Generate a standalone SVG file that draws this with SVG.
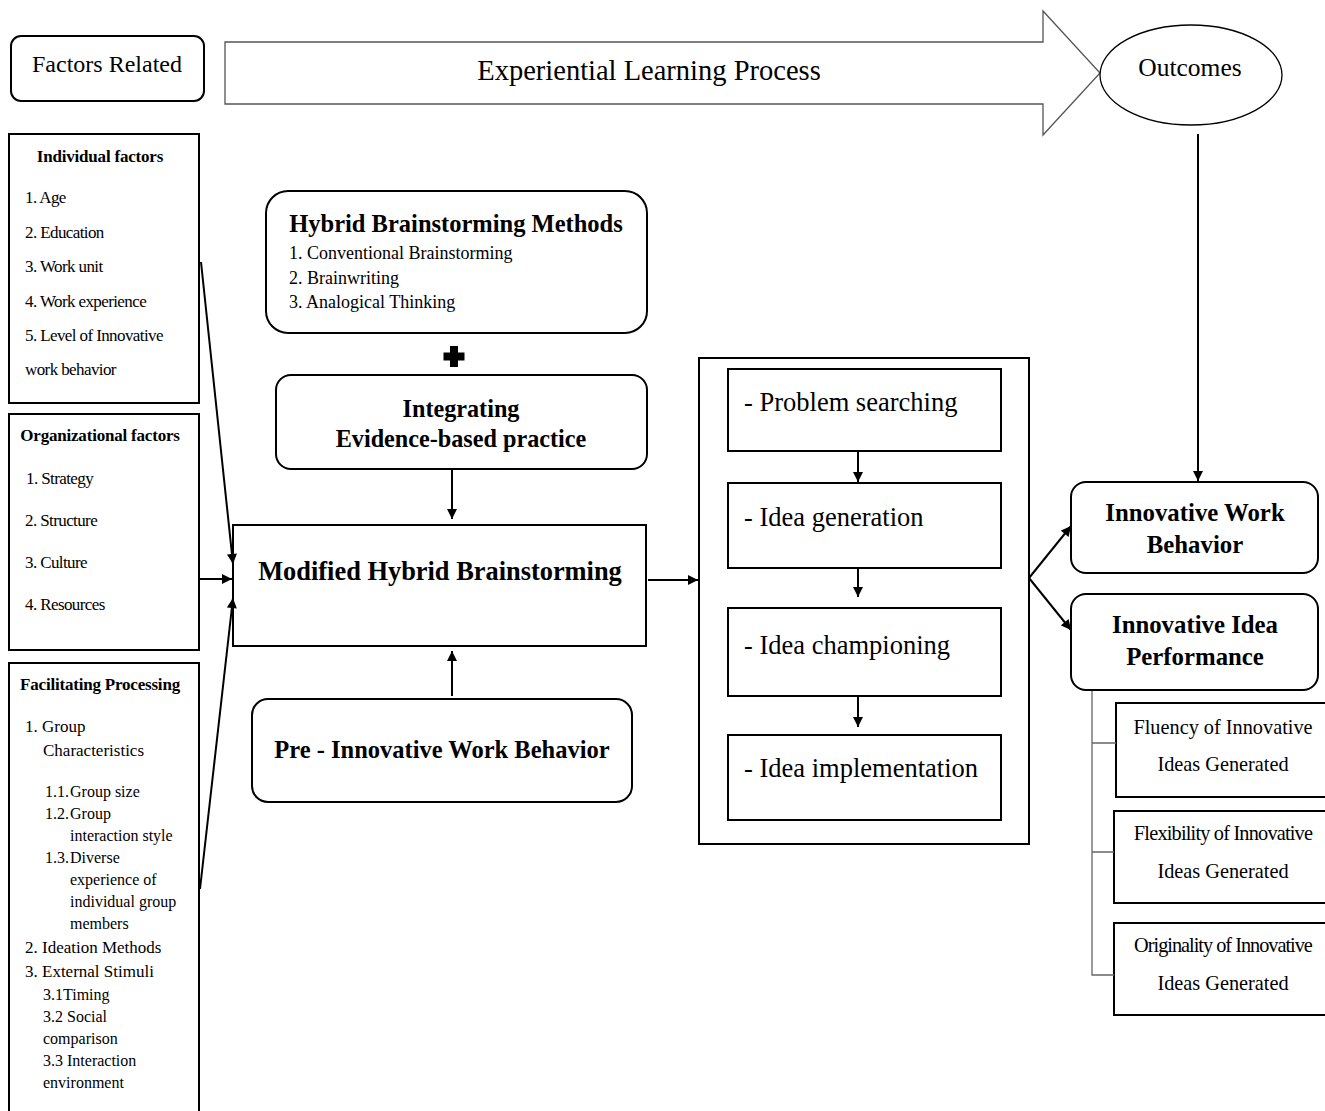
<svg xmlns="http://www.w3.org/2000/svg" width="1325" height="1111" viewBox="0 0 1325 1111">
<defs>
<marker id="ah" viewBox="0 0 10 10" refX="10" refY="5" markerWidth="11" markerHeight="10" markerUnits="userSpaceOnUse" orient="auto">
<path d="M0,0 L10,5 L0,10 z" fill="#000"/>
</marker>
<style>
text{font-family:"Liberation Serif","Times New Roman",serif;fill:#000}
.box{fill:#fff;stroke:#000;stroke-width:2}
.con{fill:none;stroke:#000;stroke-width:2;marker-end:url(#ah)}
.tree{fill:none;stroke:#666;stroke-width:1.3}
.b{font-weight:bold}
.cond{font-size:17px;letter-spacing:-0.6px}
.ttl{font-size:17px;font-weight:bold;letter-spacing:-0.2px}
.f17{font-size:17px}
.f155{font-size:16px}
.proc{font-size:26.5px}
.sub{font-size:20.3px}
.m{text-anchor:middle}
</style>
</defs>

<g id="factors-related">
<rect class="box" x="11" y="36" width="193" height="65" rx="10" stroke-width="1.5"/>
<text class="m" x="107" y="72" font-size="24">Factors Related</text>
</g>

<g id="experiential-arrow">
<path d="M225,42 L1043,42 L1043,11 L1100,73 L1043,135 L1043,104 L225,104 Z" fill="#fff" stroke="#555" stroke-width="1.3"/>
<text class="m" x="649" y="80" font-size="28.5">Experiential Learning Process</text>
</g>

<g id="outcomes">
<ellipse cx="1191" cy="75" rx="91" ry="50" fill="#fff" stroke="#000" stroke-width="1.3"/>
<text class="m" x="1190" y="76" font-size="25.5">Outcomes</text>
</g>

<g id="individual-factors">
<rect class="box" x="9" y="134" width="190" height="269" stroke-width="1.5"/>
<text class="ttl m" x="100" y="162">Individual factors</text>
<text class="cond" x="25" y="203">1. Age</text>
<text class="cond" x="25" y="238">2. Education</text>
<text class="cond" x="25" y="272">3. Work unit</text>
<text class="cond" x="25" y="307">4. Work experience</text>
<text class="cond" x="25" y="341">5. Level of  Innovative</text>
<text class="cond" x="25" y="375">work behavior</text>
</g>

<g id="organizational-factors">
<rect class="box" x="9" y="414" width="190" height="236" stroke-width="1.5"/>
<text class="ttl m" x="100" y="441">Organizational factors</text>
<text class="cond" x="26" y="484">1. Strategy</text>
<text class="cond" x="25" y="526">2. Structure</text>
<text class="cond" x="25" y="568">3. Culture</text>
<text class="cond" x="25" y="610">4. Resources</text>
</g>

<g id="facilitating-processing">
<rect class="box" x="9" y="663" width="190" height="460" stroke-width="1.5"/>
<text class="ttl m" x="100" y="690">Facilitating Processing</text>
<text class="f17" x="25" y="732">1. Group</text>
<text class="f17" x="43" y="756">Characteristics</text>
<text class="f155" x="45" y="797">1.1.</text><text class="f155" x="70" y="797">Group size</text>
<text class="f155" x="45" y="819">1.2.</text><text class="f155" x="70" y="819">Group</text>
<text class="f155" x="70" y="841">interaction style</text>
<text class="f155" x="45" y="863">1.3.</text><text class="f155" x="70" y="863">Diverse</text>
<text class="f155" x="70" y="885">experience of</text>
<text class="f155" x="70" y="907">individual group</text>
<text class="f155" x="70" y="929">members</text>
<text class="f17" x="25" y="953">2. Ideation Methods</text>
<text class="f17" x="25" y="977">3. External Stimuli</text>
<text class="f155" x="43" y="1000">3.1Timing</text>
<text class="f155" x="43" y="1022">3.2 Social</text>
<text class="f155" x="43" y="1044">comparison</text>
<text class="f155" x="43" y="1066">3.3 Interaction</text>
<text class="f155" x="43" y="1088">environment</text>
</g>

<g id="hybrid-methods">
<rect class="box" x="266" y="191" width="381" height="142" rx="22"/>
<text class="b m" x="456" y="232" font-size="24.5">Hybrid Brainstorming Methods</text>
<text x="289" y="259" font-size="18">1. Conventional Brainstorming</text>
<text x="289" y="284" font-size="18">2. Brainwriting</text>
<text x="289" y="308" font-size="18">3. Analogical Thinking</text>
</g>

<g id="plus">
<path d="M450,346 h8 v6.5 h6.5 v8 h-6.5 v6.5 h-8 v-6.5 h-6.5 v-8 h6.5 z" fill="#000"/>
</g>

<g id="integrating-ebp">
<rect class="box" x="276" y="375" width="371" height="94" rx="15"/>
<text class="b m" x="461" y="417" font-size="24.2">Integrating</text>
<text class="b m" x="461" y="447" font-size="24.2">Evidence-based practice</text>
</g>

<g id="modified-hybrid">
<rect class="box" x="233" y="525" width="413" height="121"/>
<text class="b m" x="440" y="580" font-size="26.4">Modified Hybrid Brainstorming</text>
</g>

<g id="pre-iwb">
<rect class="box" x="252" y="699" width="380" height="103" rx="16"/>
<text class="b m" x="442" y="758" font-size="24.5">Pre - Innovative Work Behavior</text>
</g>

<g id="process">
<rect class="box" x="699" y="358" width="330" height="486"/>
<rect class="box" x="728" y="369" width="273" height="82"/>
<text class="proc" x="744" y="411">- Problem searching</text>
<rect class="box" x="728" y="483" width="273" height="85"/>
<text class="proc" x="744" y="526">- Idea generation</text>
<rect class="box" x="728" y="608" width="273" height="88"/>
<text class="proc" x="744" y="654">- Idea championing</text>
<rect class="box" x="728" y="735" width="273" height="85"/>
<text class="proc" x="744" y="777">- Idea implementation</text>
</g>

<g id="innovative-work-behavior">
<rect class="box" x="1071" y="482" width="247" height="91" rx="15"/>
<text class="b m" x="1195" y="521" font-size="24.8">Innovative Work</text>
<text class="b m" x="1195" y="553" font-size="24.8">Behavior</text>
</g>

<g id="innovative-idea-performance">
<rect class="box" x="1071" y="594" width="247" height="96" rx="15"/>
<text class="b m" x="1195" y="633" font-size="24.8">Innovative Idea</text>
<text class="b m" x="1195" y="665" font-size="24.8">Performance</text>
</g>

<g id="fluency">
<rect class="box" x="1116" y="703" width="215" height="94"/>
<text class="sub m" x="1223" y="734">Fluency of Innovative</text>
<text class="sub m" x="1223" y="771">Ideas Generated</text>
</g>

<g id="flexibility">
<rect class="box" x="1114" y="811" width="217" height="92"/>
<text class="sub m" x="1223" y="840" letter-spacing="-0.8">Flexibility of Innovative</text>
<text class="sub m" x="1223" y="878">Ideas Generated</text>
</g>

<g id="originality">
<rect class="box" x="1114" y="923" width="217" height="92"/>
<text class="sub m" x="1223" y="952" letter-spacing="-1">Originality of Innovative</text>
<text class="sub m" x="1223" y="990">Ideas Generated</text>
</g>

<g id="connectors">
<line class="con" x1="201" y1="262" x2="233" y2="564"/>
<line class="con" x1="200" y1="579" x2="232" y2="579"/>
<line class="con" x1="200" y1="889" x2="233" y2="598"/>
<line class="con" x1="452" y1="470" x2="452" y2="519"/>
<line class="con" x1="452" y1="696" x2="452" y2="651"/>
<line class="con" x1="648" y1="580" x2="698" y2="580"/>
<line class="con" x1="858" y1="451" x2="858" y2="482"/>
<line class="con" x1="858" y1="568" x2="858" y2="597"/>
<line class="con" x1="858" y1="696" x2="858" y2="727"/>
<line class="con" x1="1029" y1="578" x2="1071" y2="526"/>
<line class="con" x1="1029" y1="578" x2="1071" y2="630"/>
<line class="con" x1="1198" y1="134" x2="1198" y2="481"/>
<path class="tree" d="M1092,691 V975 H1114 M1092,743 H1116 M1092,852 H1114"/>
</g>
</svg>
